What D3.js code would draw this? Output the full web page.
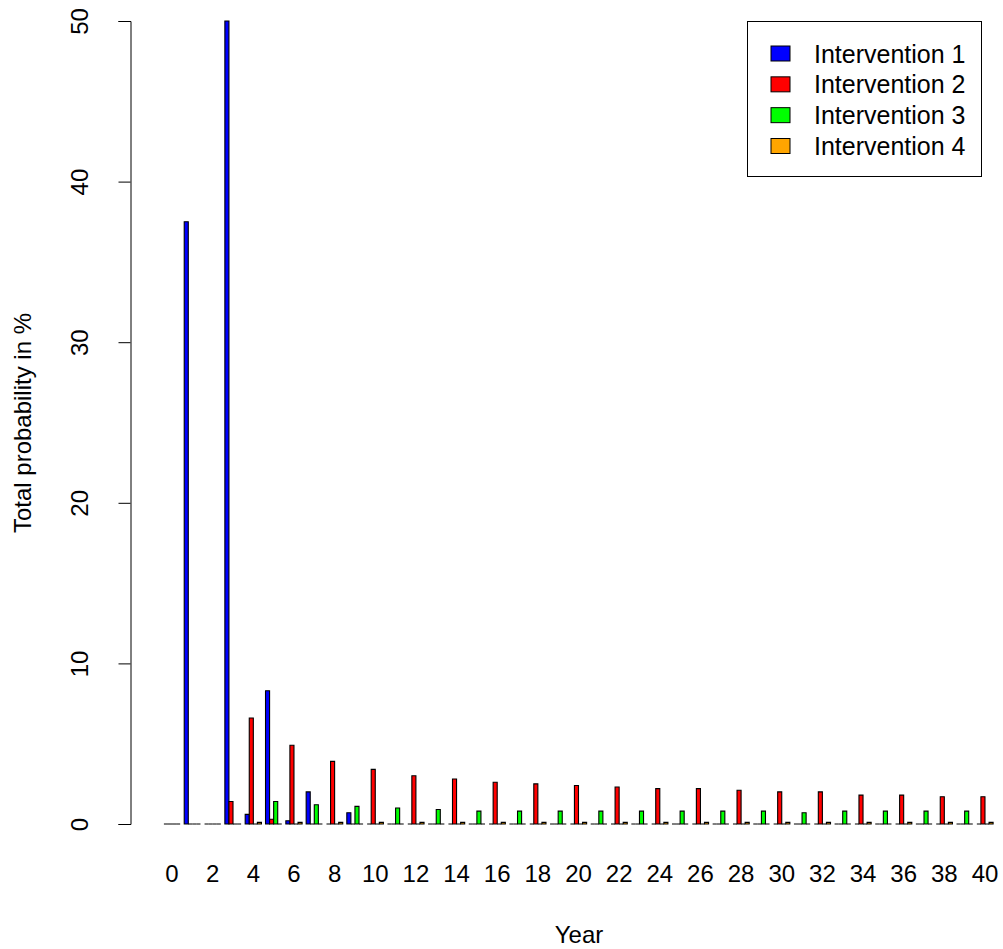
<!DOCTYPE html>
<html>
<head>
<meta charset="utf-8">
<script src="https://cdn.jsdelivr.net/npm/d3@7"></script>
<style>
  html, body { margin: 0; padding: 0; background: #ffffff; }
  svg { display: block; font-family: "Liberation Sans", Arial, Helvetica, sans-serif; }
</style>
</head>
<body>
<svg id="chart" width="1003" height="949"></svg>
<script>
// Years on the horizontal axis
const years = [0, 1, 2, 3, 4, 5, 6, 7, 8, 9, 10, 11, 12, 13, 14, 15, 16, 17, 18, 19, 20,
               21, 22, 23, 24, 25, 26, 27, 28, 29, 30, 31, 32, 33, 34, 35, 36, 37, 38, 39, 40];

// Total probability (%) per year for each intervention
const intervention1 = [0, 37.5, 0, 50, 0.6, 8.3, 0.2, 2.0, 0, 0.7, 0, 0, 0, 0, 0, 0, 0, 0, 0, 0, 0,
                       0, 0, 0, 0, 0, 0, 0, 0, 0, 0, 0, 0, 0, 0, 0, 0, 0, 0, 0, 0];
const intervention2 = [0, 0, 0, 1.4, 6.6, 0.3, 4.9, 0, 3.9, 0, 3.4, 0, 3.0, 0, 2.8, 0, 2.6, 0, 2.5, 0, 2.4,
                       0, 2.3, 0, 2.2, 0, 2.2, 0, 2.1, 0, 2.0, 0, 2.0, 0, 1.8, 0, 1.8, 0, 1.7, 0, 1.7];
const intervention3 = [0, 0, 0, 0, 0, 1.4, 0, 1.2, 0, 1.1, 0, 1.0, 0, 0.9, 0, 0.8, 0, 0.8, 0, 0.8, 0,
                       0.8, 0, 0.8, 0, 0.8, 0, 0.8, 0, 0.8, 0, 0.7, 0, 0.8, 0, 0.8, 0, 0.8, 0, 0.8, 0];
const intervention4 = [0, 0, 0, 0, 0.1, 0, 0.1, 0, 0.1, 0, 0.1, 0, 0.1, 0, 0.1, 0, 0.1, 0, 0.1, 0, 0.1,
                       0, 0.1, 0, 0.1, 0, 0.1, 0, 0.1, 0, 0.1, 0, 0.1, 0, 0.1, 0, 0.1, 0, 0.1, 0, 0.1];

const seriesNames = ["Intervention 1", "Intervention 2", "Intervention 3", "Intervention 4"];
const seriesColors = ["#0000FF", "#FF0000", "#00FF00", "#FFA500"];
const yTicks = [0, 10, 20, 30, 40, 50];
const xTickYears = [0, 2, 4, 6, 8, 10, 12, 14, 16, 18, 20, 22, 24, 26, 28, 30, 32, 34, 36, 38, 40];

const seriesValues = [intervention1, intervention2, intervention3, intervention4];

const svg = d3.select("#chart");
const fontSize = 24;

// Scales: one band per year, four adjacent bars inside each band
const x0 = d3.scaleBand().domain(years).range([163.9, 993.1]).paddingInner(0.2).paddingOuter(0);
const x1 = d3.scaleBand().domain(seriesNames).range([0, x0.bandwidth()]).padding(0);
const y = d3.scaleLinear().domain([0, 50]).range([824, 21]);
const color = d3.scaleOrdinal().domain(seriesNames).range(seriesColors);

// Flatten into bar records
const bars = [];
years.forEach((yr, i) => {
  seriesNames.forEach((name, s) => {
    bars.push({ year: yr, series: name, value: seriesValues[s][i] });
  });
});

// Bars drawn as closed paths so zero-height bars still show their outline
svg.append("g")
  .selectAll("path")
  .data(bars)
  .join("path")
  .attr("d", d => {
    const xl = x0(d.year) + x1(d.series);
    const xr = xl + x1.bandwidth();
    const yb = y(0), yt = y(d.value);
    return `M${xl},${yb}H${xr}V${yt}H${xl}Z`;
  })
  .attr("fill", d => color(d.series))
  .attr("stroke", "#000")
  .attr("stroke-width", 1.1);

// Y axis with rotated tick labels
const yAxis = svg.append("g")
  .attr("transform", "translate(130.5,0)")
  .call(d3.axisLeft(y).tickValues(yTicks).tickSize(12).tickFormat(d3.format("d")));
yAxis.select(".domain").attr("stroke", "#000").attr("stroke-width", 1);
yAxis.selectAll(".tick line").attr("stroke", "#000").attr("stroke-width", 1);
yAxis.selectAll(".tick text")
  .attr("transform", "rotate(-90)")
  .attr("x", 0)
  .attr("y", -43)
  .attr("dy", 0)
  .attr("text-anchor", "middle")
  .attr("font-size", fontSize)
  .attr("font-family", "Liberation Sans, Arial, sans-serif")
  .attr("fill", "#000");

// X axis: labels only, every second year
const xAxis = svg.append("g")
  .attr("transform", `translate(0,${y(0)})`)
  .call(d3.axisBottom(x0).tickValues(xTickYears).tickSize(0));
xAxis.select(".domain").remove();
xAxis.selectAll(".tick text")
  .attr("y", 58)
  .attr("dy", 0)
  .attr("font-size", fontSize)
  .attr("font-family", "Liberation Sans, Arial, sans-serif")
  .attr("fill", "#000");

// Axis titles
svg.append("text")
  .attr("x", 579)
  .attr("y", 943)
  .attr("text-anchor", "middle")
  .attr("font-size", fontSize)
  .text("Year");

svg.append("text")
  .attr("transform", "translate(31,423) rotate(-90)")
  .attr("text-anchor", "middle")
  .attr("font-size", fontSize)
  .text("Total probability in %");

// Legend box in the top-right corner
const legend = svg.append("g");
legend.append("rect")
  .attr("x", 747.5).attr("y", 21.5)
  .attr("width", 234).attr("height", 155)
  .attr("fill", "#fff").attr("stroke", "#000").attr("stroke-width", 1);

const rowY = d3.scalePoint().domain(seriesNames).range([53.5, 146]);
const rows = legend.selectAll("g.row")
  .data(seriesNames)
  .join("g")
  .attr("class", "row")
  .attr("transform", d => `translate(0,${rowY(d)})`);
rows.append("rect")
  .attr("x", 771).attr("y", -7.5)
  .attr("width", 19).attr("height", 15)
  .attr("fill", d => color(d))
  .attr("stroke", "#000").attr("stroke-width", 1);
rows.append("text")
  .attr("x", 814).attr("y", 9)
  .attr("font-size", fontSize + 1)
  .text(d => d);
</script>
</body>
</html>
